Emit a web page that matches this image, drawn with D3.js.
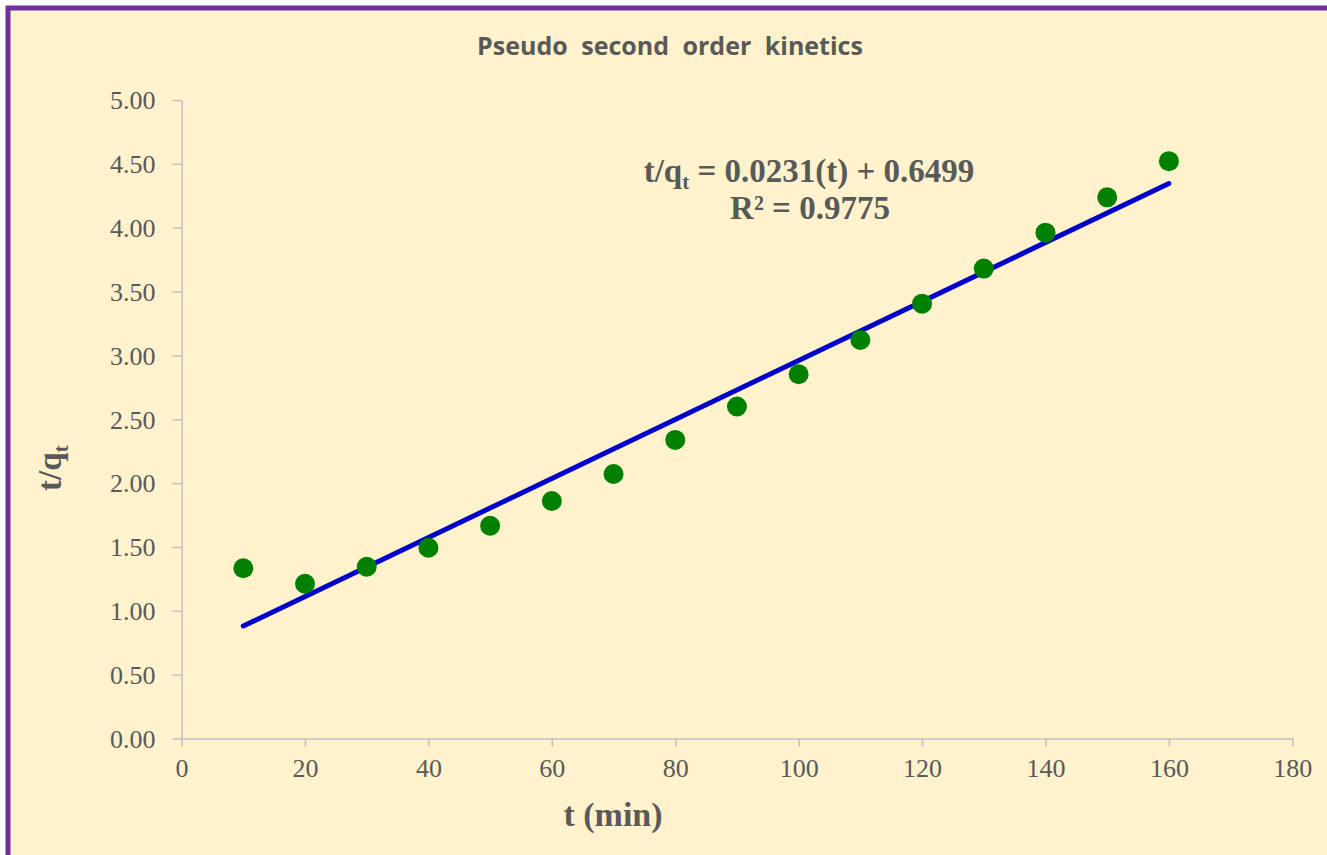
<!DOCTYPE html>
<html>
<head>
<meta charset="utf-8">
<script src="https://cdn.jsdelivr.net/npm/d3@7"></script>
<style>
  html, body { margin: 0; padding: 0; background: #ffffff; }
  svg { display: block; }
</style>
</head>
<body>
<div id="chart"></div>
<script>
// Contact time (min) and t/qt values for the pseudo-second-order plot
const times = [10, 20, 30, 40, 50, 60, 70, 80, 90, 100, 110, 120, 130, 140, 150, 160];
const tOverQ = [1.333, 1.212, 1.345, 1.494, 1.666, 1.860, 2.071, 2.338, 2.600, 2.852, 3.121, 3.405, 3.680, 3.961, 4.238, 4.521];

// Linear fit parameters
const slope = 0.0231;
const intercept = 0.6499;
const fitRange = [10, 160];

// Axis ticks
const xTicks = [0, 20, 40, 60, 80, 100, 120, 140, 160, 180];
const yTicks = [0, 0.5, 1, 1.5, 2, 2.5, 3, 3.5, 4, 4.5, 5];

const W = 1327, H = 855;
const plot = { left: 181.6, right: 1292.3, top: 100, bottom: 738.5 };
const textGray = "#595959";
const axisGray = "#bfbfc6";
const serif = "'Liberation Serif', 'Times New Roman', serif";

const svg = d3.select("#chart").append("svg")
  .attr("width", W).attr("height", H);

// Chart area with purple frame
svg.append("rect")
  .attr("x", 8).attr("y", 8)
  .attr("width", W + 20).attr("height", H + 20)
  .attr("fill", "#fff2cc")
  .attr("stroke", "#7030a0")
  .attr("stroke-width", 5);

const x = d3.scaleLinear().domain([0, 180]).range([plot.left, plot.right]);
const y = d3.scaleLinear().domain([0, 5]).range([plot.bottom, plot.top]);

// Title
svg.append("text")
  .attr("x", 670).attr("y", 55)
  .attr("text-anchor", "middle")
  .attr("font-family", "'Open Sans', sans-serif")
  .attr("font-weight", 700)
  .attr("font-size", 25)
  .attr("word-spacing", 7)
  .attr("fill", textGray)
  .text("Pseudo second order kinetics");

// Axes
const xAxis = svg.append("g")
  .attr("transform", `translate(0,${plot.bottom})`)
  .call(d3.axisBottom(x).tickValues(xTicks).tickSizeInner(8).tickSizeOuter(0).tickPadding(12).tickFormat(d3.format("d")));

const yAxis = svg.append("g")
  .attr("transform", `translate(${plot.left},0)`)
  .call(d3.axisLeft(y).tickValues(yTicks).tickSizeInner(9).tickSizeOuter(0).tickPadding(17).tickFormat(d3.format(".2f")));

[xAxis, yAxis].forEach(g => {
  g.select(".domain").attr("stroke", axisGray).attr("stroke-width", 1.5);
  g.selectAll(".tick line").attr("stroke", axisGray).attr("stroke-width", 1.5);
  g.selectAll(".tick text")
    .attr("font-family", serif)
    .attr("font-size", 26)
    .attr("fill", textGray);
});
yAxis.selectAll(".tick text").attr("dy", "0.34em");
xAxis.selectAll(".tick text").attr("dy", "0.71em");

// Axis titles
svg.append("text")
  .attr("x", 613).attr("y", 826)
  .attr("text-anchor", "middle")
  .attr("font-family", serif)
  .attr("font-weight", "bold")
  .attr("font-size", 34)
  .attr("fill", textGray)
  .text("t (min)");

const yTitle = svg.append("text")
  .attr("transform", "translate(61,468) rotate(-90)")
  .attr("text-anchor", "middle")
  .attr("font-family", serif)
  .attr("font-weight", "bold")
  .attr("font-size", 33)
  .attr("fill", textGray);
yTitle.append("tspan").text("t/q");
yTitle.append("tspan").attr("font-size", 22).attr("dy", 7).text("t");

// Fitted line
const fitLine = fitRange.map(t => [t, slope * t + intercept]);
svg.append("path")
  .datum(fitLine)
  .attr("d", d3.line().x(d => x(d[0])).y(d => y(d[1])))
  .attr("stroke", "#0000cc")
  .attr("stroke-width", 5)
  .attr("stroke-linecap", "round")
  .attr("fill", "none");

// Data points
svg.append("g").selectAll("circle")
  .data(times.map((t, i) => [t, tOverQ[i]]))
  .join("circle")
  .attr("cx", d => x(d[0]))
  .attr("cy", d => y(d[1]))
  .attr("r", 10)
  .attr("fill", "#008000");

// Regression equation
const eq = svg.append("text")
  .attr("x", 809).attr("y", 182)
  .attr("text-anchor", "middle")
  .attr("font-family", serif)
  .attr("font-weight", "bold")
  .attr("font-size", 33)
  .attr("fill", textGray);
eq.append("tspan").text("t/q");
eq.append("tspan").attr("font-size", 21).attr("dy", 7).text("t");
eq.append("tspan").attr("dy", -7).text(` = ${slope.toFixed(4)}(t) + ${intercept.toFixed(4)}`);

svg.append("text")
  .attr("x", 810).attr("y", 219)
  .attr("text-anchor", "middle")
  .attr("font-family", serif)
  .attr("font-weight", "bold")
  .attr("font-size", 33)
  .attr("fill", textGray)
  .text("R² = 0.9775");
</script>
</body>
</html>
